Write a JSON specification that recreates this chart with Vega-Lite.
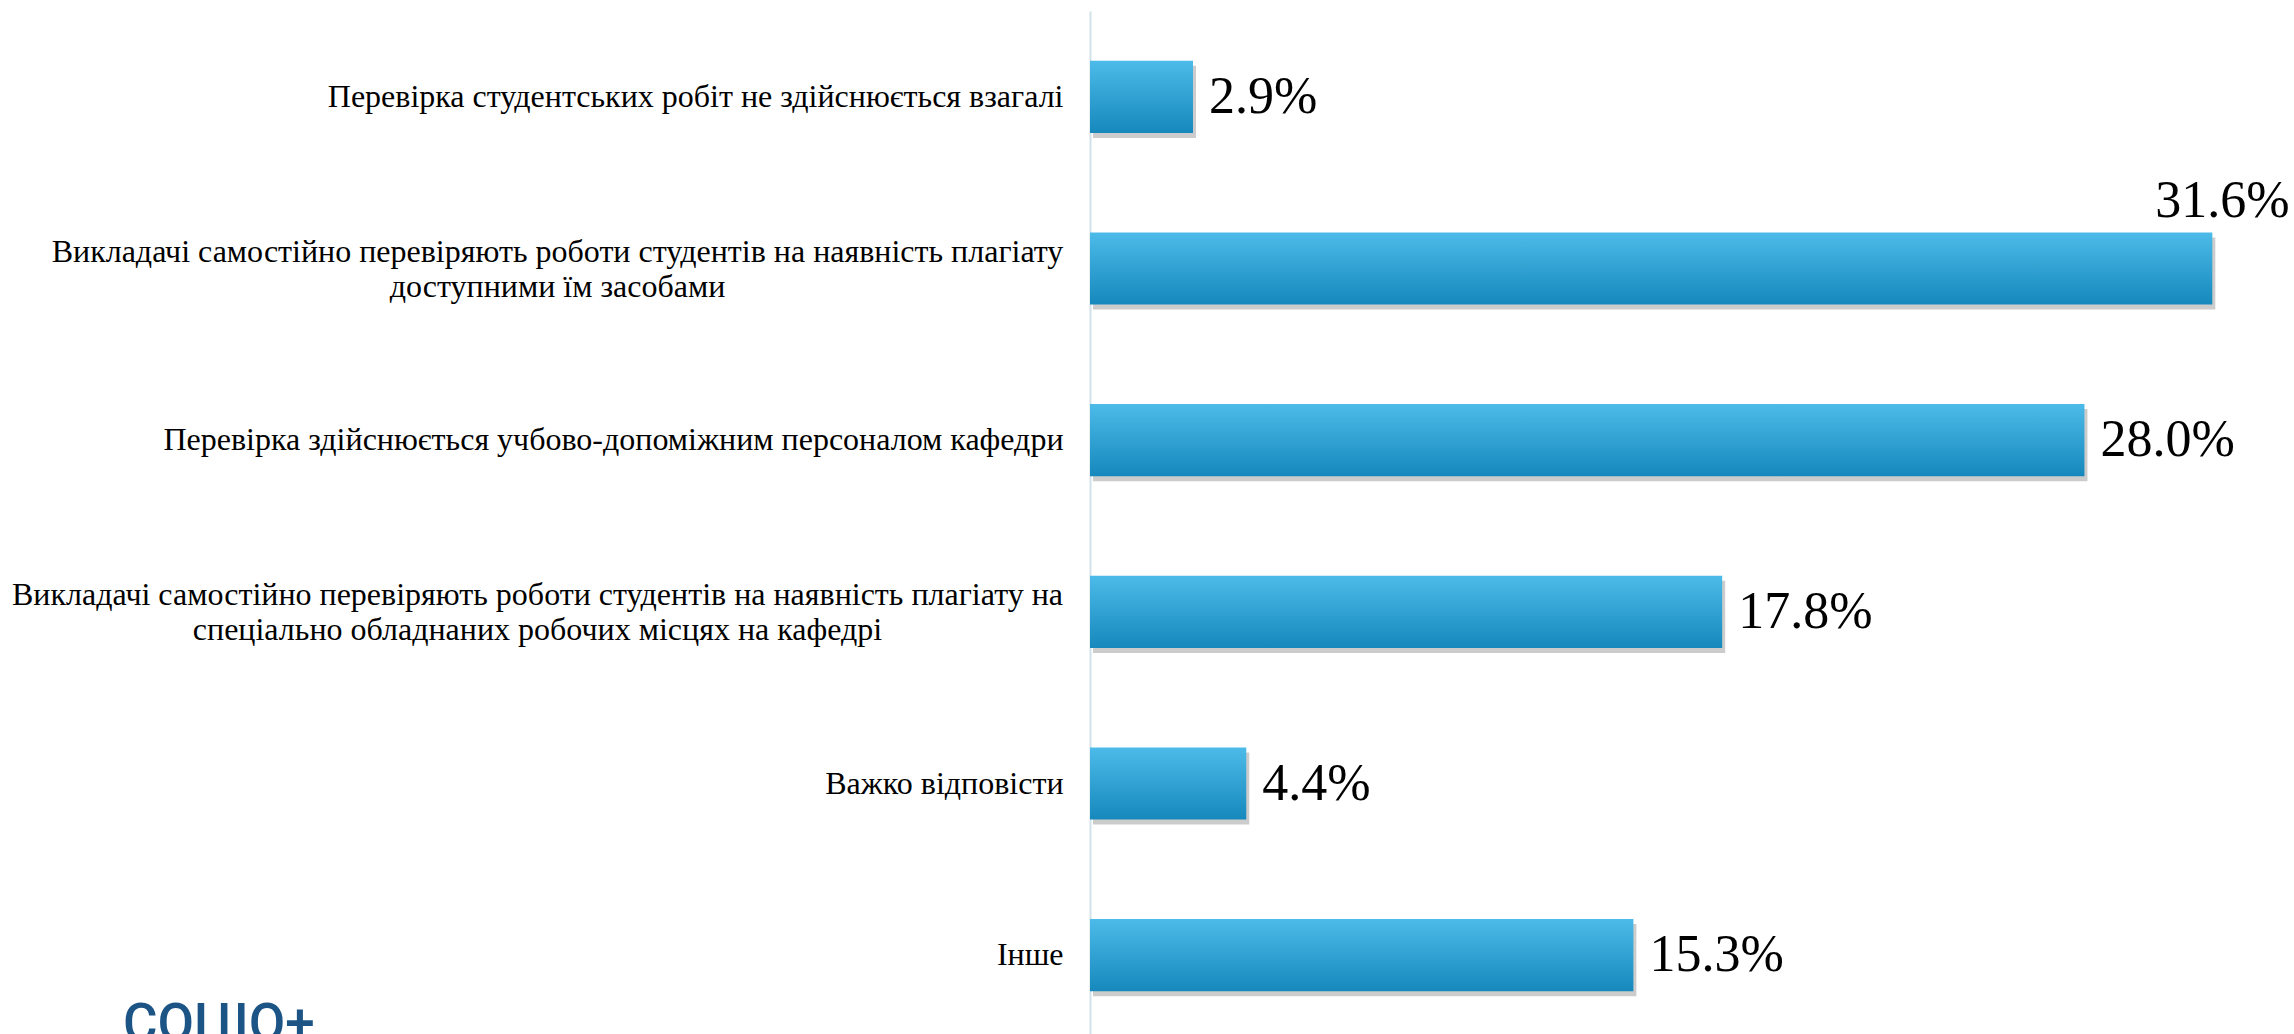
{
  "$schema": "https://vega.github.io/schema/vega-lite/v6.json",
  "autosize": "none",
  "width": 1204,
  "height": 1030,
  "padding": {"left": 1090, "top": 11, "right": 0, "bottom": 0},
  "background": "white",
  "title": {
    "text": "СОЦІО+",
    "orient": "bottom",
    "anchor": "start",
    "frame": "group",
    "baseline": "alphabetic",
    "offset": 0,
    "dx": -967,
    "font": "Roboto",
    "fontWeight": 500,
    "fontSize": 53,
    "color": "#1c5485"
  },
  "data": {
    "values": [
      {"category": "Перевірка студентських робіт не здійснюється взагалі", "pct": 0.029},
      {"category": "Викладачі самостійно перевіряють роботи студентів на наявність плагіату\nдоступними їм засобами", "pct": 0.316},
      {"category": "Перевірка здійснюється учбово-допоміжним персоналом кафедри", "pct": 0.28},
      {"category": "Викладачі самостійно перевіряють роботи студентів на наявність плагіату на\nспеціально обладнаних робочих місцях на кафедрі", "pct": 0.178},
      {"category": "Важко відповісти", "pct": 0.044},
      {"category": "Інше", "pct": 0.153}
    ]
  },
  "encoding": {
    "y": {
      "field": "category",
      "type": "nominal",
      "sort": null,
      "scale": {"paddingInner": 0.58, "paddingOuter": 0.29},
      "axis": {
        "title": null,
        "ticks": false,
        "domain": true,
        "domainColor": "#d3e2ea",
        "domainWidth": 2,
        "labelExpr": "split(datum.label, '\\n')",
        "labelFont": "Liberation Serif",
        "labelFontSize": 32,
        "labelLineHeight": 35,
        "labelColor": "#000000",
        "labelLimit": 1200,
        "labelAlign": {"condition": {"test": "indexof(datum.value, '\\n') >= 0", "value": "center"}, "value": "right"},
        "labelOffset": {"condition": {"test": "indexof(datum.value, '\\n') >= 0", "value": -17}, "value": 0},
        "labelPadding": {"condition": [
          {"test": "indexof(datum.value, 'доступними') >= 0", "value": 533},
          {"test": "indexof(datum.value, '\\n') >= 0", "value": 553}
        ], "value": 27}
      }
    },
    "x": {
      "field": "pct",
      "type": "quantitative",
      "scale": {"domain": [0, 0.339], "nice": false},
      "axis": null
    }
  },
  "layer": [
    {
      "mark": {"type": "bar", "color": "#6e6e6e", "opacity": 0.35, "xOffset": 3, "yOffset": 5, "x2Offset": 3, "y2Offset": 5}
    },
    {
      "mark": {
        "type": "bar",
        "color": {
          "gradient": "linear",
          "x1": 0, "y1": 0, "x2": 0, "y2": 1,
          "stops": [
            {"offset": 0, "color": "#4cbbe9"},
            {"offset": 1, "color": "#1688bc"}
          ]
        }
      }
    },
    {
      "transform": [{"filter": "datum.pct < 0.3"}],
      "mark": {"type": "text", "align": "left", "baseline": "middle", "dx": 16, "font": "Liberation Serif", "fontSize": 52, "color": "#000000"},
      "encoding": {"text": {"field": "pct", "type": "quantitative", "format": ".1%"}}
    },
    {
      "transform": [{"filter": "datum.pct >= 0.3"}],
      "mark": {"type": "text", "align": "left", "baseline": "middle", "dx": -57, "dy": -68, "font": "Liberation Serif", "fontSize": 52, "color": "#000000"},
      "encoding": {"text": {"field": "pct", "type": "quantitative", "format": ".1%"}}
    }
  ],
  "config": {"view": {"stroke": null}}
}
